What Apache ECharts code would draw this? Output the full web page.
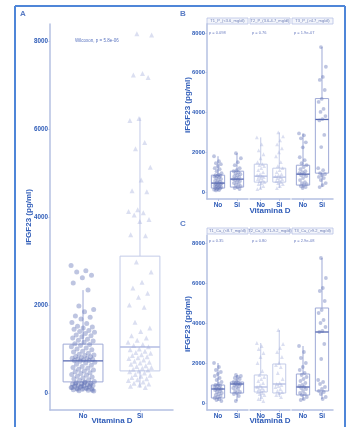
<!DOCTYPE html>
<html><head><meta charset="utf-8">
<script src="https://cdn.jsdelivr.net/npm/echarts@6/dist/echarts.min.js"></script>
<style>html,body{margin:0;padding:0;background:#fff}#c{width:361px;height:427px}</style>
</head><body><div id="c"></div>
<script>
// ---------- DATA ----------
const groupLabels = ['No', 'Si'];
const yTicks = [0, 2000, 4000, 6000, 8000];
const stripB = ['T1_P_(<3.6_mg/dl)', 'T2_P_(3.6-4.7_mg/dl)', 'T3_P_(>4.7_mg/dl)'];
const stripC = ['T1_Ca_(<8.7_mg/dl)', 'T2_Ca_(8.71-9.2_mg/dl)', 'T3_Ca_(>9.2_mg/dl)'];
const pB = ['p = 0.098', 'p = 0.76', 'p = 1.9e-07'];
const pC = ['p = 0.35', 'p = 0.80', 'p = 2.9e-08'];
const pA = 'Wilcoxon, p = 5.8e-06';

// raw points
const A_no = [2900,2780,2750,2680,2620,2500,2340,1980,1900,1850,1750,1720,1680,1600,1580,1520,1500,1480,1450,1420,1400,1380,1350,1320,1300,1280,1250,1220,1200,1180,1150,1120,
  1100,1080,1050,1020,1000,980,950,930,900,880,860,850,830,820,800,790,780,770,760,750,740,735,
  720,700,680,650,630,600,580,560,540,520,500,480,460,440,420,400,380,360,340,320,300,280,260,
  240,230,220,210,200,190,180,170,160,150,140,130,120,110,100,90,80,70,60,50,40,240,200,180,150,120,100,80,60];
const A_si = [8180,8150,7270,7240,7180,6250,6200,5700,5560,5140,4850,4600,4580,4170,4130,4100,4050,3950,3900,3600,3580,2980,2750,2520,2390,2270,2180,2000,1950,1610,1480,
  1400,1300,1250,1200,1150,1100,1080,1050,1000,980,950,920,900,870,850,820,800,780,750,720,700,680,650,620,600,580,560,540,520,500,480,450,420,400,380,350,320,300,280,250,220,200,180,150,120];
const B1_no = [1800,1550,1450,1400,1300,1200,1150,1050,950,880,850,820,800,780,750,700,650,600,560,520,480,450,430,400,380,350,320,300,280,250,230,200,180,150,120,100,80];
const B1_si = [1950,1700,1500,1350,1200,1100,1050,1000,950,900,850,800,750,700,650,620,600,550,500,450,400,350,300,250,200,150];
const B2_no = [2750,2400,2100,1900,1700,1500,1400,1350,1300,1200,1100,1000,900,850,800,780,750,700,650,600,550,500,450,400,300,200,150];
const B2_si = [3000,2800,2600,2400,2200,2000,1800,1500,1300,1200,1100,1000,900,850,800,750,700,650,600,550,500,450,400,300,200];
const B3_no = [2950,2850,2700,2500,2250,1750,1600,1450,1350,1250,1150,1050,1000,950,900,850,800,700,600,500,450,400,350,300,250,200];
const B3_si = [7290,6300,5790,5640,5130,4680,4530,4180,4030,3820,3670,3600,2870,2260,1200,1100,950,900,850,760,700,600,450,350,250];
const C1_no = [2000,1800,1650,1550,1450,1350,1250,1150,1050,950,900,870,850,800,750,720,700,680,650,600,550,500,450,400,350,300,250,200,150,100];
const C1_si = [1400,1350,1300,1250,1200,1100,1050,1000,980,950,920,900,850,800,750,700,600,550,500,450,350,100];
const C2_no = [3000,2850,2700,2500,2300,2000,1600,1400,1300,1200,1100,1000,900,800,750,700,650,600,550,500,450,400,300,200,100];
const C2_si = [3650,2950,2750,2550,2300,2000,1900,1800,1500,1200,1000,950,900,850,800,700,600,550,500,400,300];
const C3_no = [2850,2550,2250,2000,1800,1650,1500,1400,1300,1200,1100,1000,900,850,800,750,700,600,500,450,400,300,200,150];
const C3_si = [7250,6250,5750,5600,5100,4650,4500,4150,4000,3800,3600,3550,2950,2200,1150,1050,950,800,700,600,550,450,300,200];

// box stats [min, q1, median, q3, max]
const A_box_no = [40, 250, 730, 1110, 2340];
const A_box_si = [120, 500, 1045, 3114, 6270];
const B1_box_no = [80, 200, 450, 850, 1800];
const B1_box_si = [150, 250, 650, 1050, 1950];
const B2_box_no = [150, 500, 800, 1400, 2750];
const B2_box_si = [200, 500, 750, 1200, 3000];
const B3_box_no = [200, 350, 900, 1350, 2950];
const B3_box_si = [250, 950, 3650, 4700, 7290];
const C1_box_no = [100, 250, 700, 900, 2000];
const C1_box_si = [100, 500, 950, 1050, 1400];
const C2_box_no = [100, 550, 800, 1400, 3000];
const C2_box_si = [300, 500, 950, 1950, 3650];
const C3_box_no = [150, 400, 800, 1450, 2850];
const C3_box_si = [200, 600, 3550, 4750, 7250];

// ---------- STYLE / LAYOUT ----------
const FONT = '"Liberation Sans", Arial, sans-serif';
const TXT = '#2f5cb8';
const AXC = '#b4c0e2';
const FRAME = '#4f86d8';
const DARK = {pt: 'rgba(92,110,180,0.5)', box: '#9ea9d6', med: '#5466b0', sym: 'circle'};
const LIGHT = {pt: 'rgba(165,176,220,0.5)', box: '#c3cbe8', med: '#b3bde3', sym: 'triangle'};

const panels = [
  {grid: {left: 50, top: 24, width: 123, height: 386}, ymin: -390, ymax: 8400, showY: true, size: 5, fs: 6.3,
   groups: [[A_no, A_box_no, DARK], [A_si, A_box_si, LIGHT]]},
  {grid: {left: 207, top: 24, width: 41, height: 175}, ymin: -350, ymax: 8450, showY: true, size: 3.8, fs: 5.8,
   groups: [[B1_no, B1_box_no, DARK], [B1_si, B1_box_si, DARK]]},
  {grid: {left: 250, top: 24, width: 40, height: 175}, ymin: -350, ymax: 8450, showY: false, size: 3.8, fs: 5.8,
   groups: [[B2_no, B2_box_no, LIGHT], [B2_si, B2_box_si, LIGHT]]},
  {grid: {left: 292, top: 24, width: 41, height: 175}, ymin: -350, ymax: 8450, showY: false, size: 3.8, fs: 5.8,
   groups: [[B3_no, B3_box_no, DARK], [B3_si, B3_box_si, DARK]]},
  {grid: {left: 207, top: 235, width: 41, height: 175}, ymin: -350, ymax: 8400, showY: true, size: 3.8, fs: 5.8,
   groups: [[C1_no, C1_box_no, DARK], [C1_si, C1_box_si, DARK]]},
  {grid: {left: 250, top: 235, width: 40, height: 175}, ymin: -350, ymax: 8400, showY: false, size: 3.8, fs: 5.8,
   groups: [[C2_no, C2_box_no, LIGHT], [C2_si, C2_box_si, LIGHT]]},
  {grid: {left: 292, top: 235, width: 41, height: 175}, ymin: -350, ymax: 8400, showY: false, size: 3.8, fs: 5.8,
   groups: [[C3_no, C3_box_no, DARK], [C3_si, C3_box_si, DARK]]}
];

const BOXW = 0.7;
const JIT = 0.42;

const grids = [], xAxes = [], yAxes = [], series = [];
panels.forEach((p, k) => {
  grids.push(Object.assign({outerBoundsMode: 'none', containLabel: false}, p.grid));
  xAxes.push({
    gridIndex: k, type: 'value', min: 0.42, max: 2.58,
    axisLine: {show: true, onZero: false, lineStyle: {color: AXC, width: 1.5}},
    axisTick: {show: true, customValues: [1, 2], length: 2, lineStyle: {color: AXC}},
    axisLabel: {customValues: [1, 2], formatter: v => groupLabels[Math.round(v) - 1], color: TXT,
      fontWeight: 'bold', fontSize: 6.5, fontFamily: FONT, margin: 3},
    splitLine: {show: false}
  });
  yAxes.push({
    gridIndex: k, type: 'value', min: p.ymin, max: p.ymax,
    axisLine: {show: p.showY, onZero: false, lineStyle: {color: AXC, width: 1.5}},
    axisTick: {show: p.showY, customValues: yTicks, length: 1.5, lineStyle: {color: AXC}},
    axisLabel: {show: p.showY, customValues: yTicks, formatter: v => String(v), color: TXT, fontWeight: 'bold',
      fontSize: p.fs, fontFamily: FONT, margin: 2},
    splitLine: {show: false}
  });
  const styles = p.groups.map(g => g[2]);
  series.push({
    type: 'custom', xAxisIndex: k, yAxisIndex: k, z: 1,
    encode: {x: 0, y: [1, 2, 3, 4, 5]},
    data: p.groups.map((g, i) => [i + 1].concat(g[1])),
    renderItem: (params, api) => {
      const x = api.value(0);
      const w = api.size([BOXW, 0])[0];
      const pMin = api.coord([x, api.value(1)]), pQ1 = api.coord([x, api.value(2)]),
            pMd = api.coord([x, api.value(3)]), pQ3 = api.coord([x, api.value(4)]),
            pMx = api.coord([x, api.value(5)]);
      const st = styles[params.dataIndex];
      const cx = pQ1[0];
      return {type: 'group', children: [
        {type: 'line', shape: {x1: cx, y1: pQ3[1], x2: cx, y2: pMx[1]}, style: {stroke: st.box, lineWidth: 1}},
        {type: 'line', shape: {x1: cx, y1: pQ1[1], x2: cx, y2: pMin[1]}, style: {stroke: st.box, lineWidth: 1}},
        {type: 'rect', shape: {x: cx - w / 2, y: pQ3[1], width: w, height: pQ1[1] - pQ3[1]},
          style: {fill: 'rgba(255,255,255,0)', stroke: st.box, lineWidth: 1}},
        {type: 'line', shape: {x1: cx - w / 2, y1: pMd[1], x2: cx + w / 2, y2: pMd[1]}, style: {stroke: st.med, lineWidth: 1.3}}
      ]};
    }
  });
  p.groups.forEach((g, gi) => {
    const st = g[2];
    series.push({
      type: 'scatter', xAxisIndex: k, yAxisIndex: k, z: 2,
      symbol: st.sym, symbolSize: p.size,
      itemStyle: {color: st.pt},
      data: g[0].map((v, i) => [gi + 1 + (((i * 0.618034 + gi * 0.37) % 1) - 0.5) * JIT, v]),
      silent: true
    });
  });
});

// ---------- GRAPHIC (titles, strips, frame) ----------
const graphic = [];
function txt(x, y, s, font, fill, align, rot) {
  graphic.push({type: 'text', x: x, y: y, rotation: rot || 0,
    style: {text: s, font: font, fill: fill, align: align || 'left', verticalAlign: 'middle'}});
}
function line(x1, y1, x2, y2, c, w) {
  graphic.push({type: 'line', shape: {x1, y1, x2, y2}, style: {stroke: c, lineWidth: w}});
}
// frame
line(15, 6, 345, 6, FRAME, 2);
line(15, 6, 15, 427, FRAME, 2);
line(345, 6, 345, 427, FRAME, 2);
// panel letters
txt(20, 14, 'A', 'bold 8px ' + FONT, '#5a7cc4');
txt(180, 14, 'B', 'bold 8px ' + FONT, '#5a7cc4');
txt(180, 224, 'C', 'bold 8px ' + FONT, '#5a7cc4');
// axis titles
txt(29, 217, 'iFGF23 (pg/ml)', 'bold 8px ' + FONT, TXT, 'center', Math.PI / 2);
txt(188, 105, 'iFGF23 (pg/ml)', 'bold 8px ' + FONT, TXT, 'center', Math.PI / 2);
txt(188, 324, 'iFGF23 (pg/ml)', 'bold 8px ' + FONT, TXT, 'center', Math.PI / 2);
txt(112, 421, 'Vitamina D', 'bold 8px ' + FONT, TXT, 'center');
txt(270, 211, 'Vitamina D', 'bold 8px ' + FONT, TXT, 'center');
txt(270, 421, 'Vitamina D', 'bold 8px ' + FONT, TXT, 'center');
// annotation A
txt(75, 41, pA, '4.5px ' + FONT, '#5a74c0');
// strips
[[stripB, pB, 18, 33], [stripC, pC, 228, 241]].forEach(([labs, ps, sy, py]) => {
  [[207, 41], [250, 40], [292, 41]].forEach(([x0, w], i) => {
    graphic.push({type: 'rect', shape: {x: x0, y: sy, width: w, height: 6},
      style: {fill: '#f3f5fb', stroke: '#b8c2e6', lineWidth: 0.8}});
    txt(x0 + w / 2, sy + 3, labs[i], '4px ' + FONT, '#7080b8', 'center');
    txt(x0 + 2, py, ps[i], '4px ' + FONT, '#6a7cc0');
  });
});

const chart = echarts.init(document.getElementById('c'), null, {renderer: 'canvas'});
chart.setOption({
  animation: false,
  backgroundColor: '#ffffff',
  grid: grids, xAxis: xAxes, yAxis: yAxes, series: series, graphic: graphic
});
</script></body></html>
